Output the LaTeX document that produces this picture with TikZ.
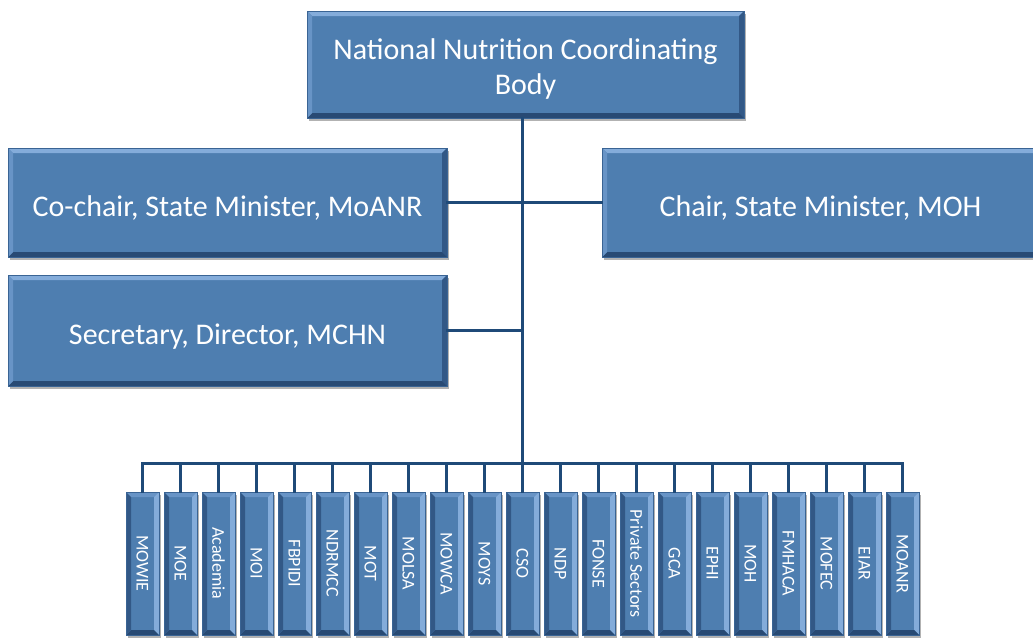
\documentclass[tikz,border=0pt]{standalone}
\usepackage{fontspec}
\setmainfont{Carlito}
\usepackage{graphicx}
\usetikzlibrary{shadows}
\definecolor{boxfill}{RGB}{78,126,176}
\definecolor{boxedge}{RGB}{58,100,148}
\definecolor{bvlight}{RGB}{132,172,218}
\definecolor{bvmid}{RGB}{104,148,198}
\definecolor{bvdark}{RGB}{50,88,134}
\definecolor{bvdarker}{RGB}{40,74,116}
\definecolor{connc}{RGB}{31,74,120}
\newcommand\mybevel[5]{%
  \path (path picture bounding box.north west) coordinate (pNW)
        (path picture bounding box.north east) coordinate (pNE)
        (path picture bounding box.south east) coordinate (pSE)
        (path picture bounding box.south west) coordinate (pSW);
  \fill[#1] (pNW) -- (pNE) -- ([shift={(-#5,-#5)}]pNE) -- ([shift={(#5,-#5)}]pNW) -- cycle;
  \fill[#2] (pNE) -- (pSE) -- ([shift={(-#5,#5)}]pSE) -- ([shift={(-#5,-#5)}]pNE) -- cycle;
  \fill[#3] (pSE) -- (pSW) -- ([shift={(#5,#5)}]pSW) -- ([shift={(-#5,#5)}]pSE) -- cycle;
  \fill[#4] (pSW) -- (pNW) -- ([shift={(#5,-#5)}]pNW) -- ([shift={(#5,#5)}]pSW) -- cycle;
}
\tikzset{
  boxbase/.style={rectangle, draw=boxedge, line width=0.5pt, fill=boxfill,
    text=white, inner sep=0pt, align=center,
    drop shadow={shadow xshift=1.5pt, shadow yshift=-2.5pt, opacity=0.3, fill=black}},
  bigbox/.style={boxbase, minimum width=437pt, font=\fontsize{30}{35}\selectfont,
    text height=28pt, text depth=0pt,
    path picture={\mybevel{bvlight}{bvdark}{bvdarker}{bvmid}{5pt}}},
  smallbox/.style={boxbase, minimum width=33pt, minimum height=143pt,
    font=\fontsize{18}{20}\selectfont,
    path picture={\mybevel{bvmid}{bvlight}{bvdarker}{bvdark}{5pt}}},
  conn/.style={draw=connc, line width=3pt, line cap=rect}
}
\begin{document}
\begin{tikzpicture}[x=1pt,y=-1pt]
\useasboundingbox (0,0) rectangle (1033,637);
% boxes
\node[bigbox, minimum height=107pt, text height=60pt] (top) at (525.5,64.5) {National Nutrition Coordinating\\Body};
\node[bigbox, minimum width=439pt, minimum height=109pt] (cochair) at (227.5,202.5) {Co-chair, State Minister, MoANR};
\node[bigbox, minimum height=109pt] (chair) at (820.5,202.5) {Chair, State Minister, MOH};
\node[bigbox, minimum width=439pt, minimum height=111pt] (secr) at (227.5,330.5) {Secretary, Director, MCHN};
\foreach \lab [count=\i from 0] in {MOWIE,MOE,Academia,MOI,FBPIDI,NDRMCC,MOT,MOLSA,MOWCA,MOYS,CSO,NDP,FONSE,Private Sectors,GCA,EPHI,MOH,FMHACA,MOFEC,EIAR,MOANR}{
  \node[smallbox] (b\i) at ({142.5+38*\i},563.5) {\rotatebox[origin=c]{-90}{\lab}};
}
% connectors
\coordinate (busL) at (142.5,463);
\coordinate (busR) at (902.5,463);
\draw[conn] (top.south -| b10.north) -- (b10.north);
\draw[conn] (cochair.east) -- (chair.west);
\draw[conn] (secr.east) -- (secr.east -| b10.north);
\draw[conn] (busL) -- (busR);
\foreach \i in {0,...,20}{
  \draw[conn] (b\i.north |- busL) -- (b\i.north);
}
\end{tikzpicture}
\end{document}
